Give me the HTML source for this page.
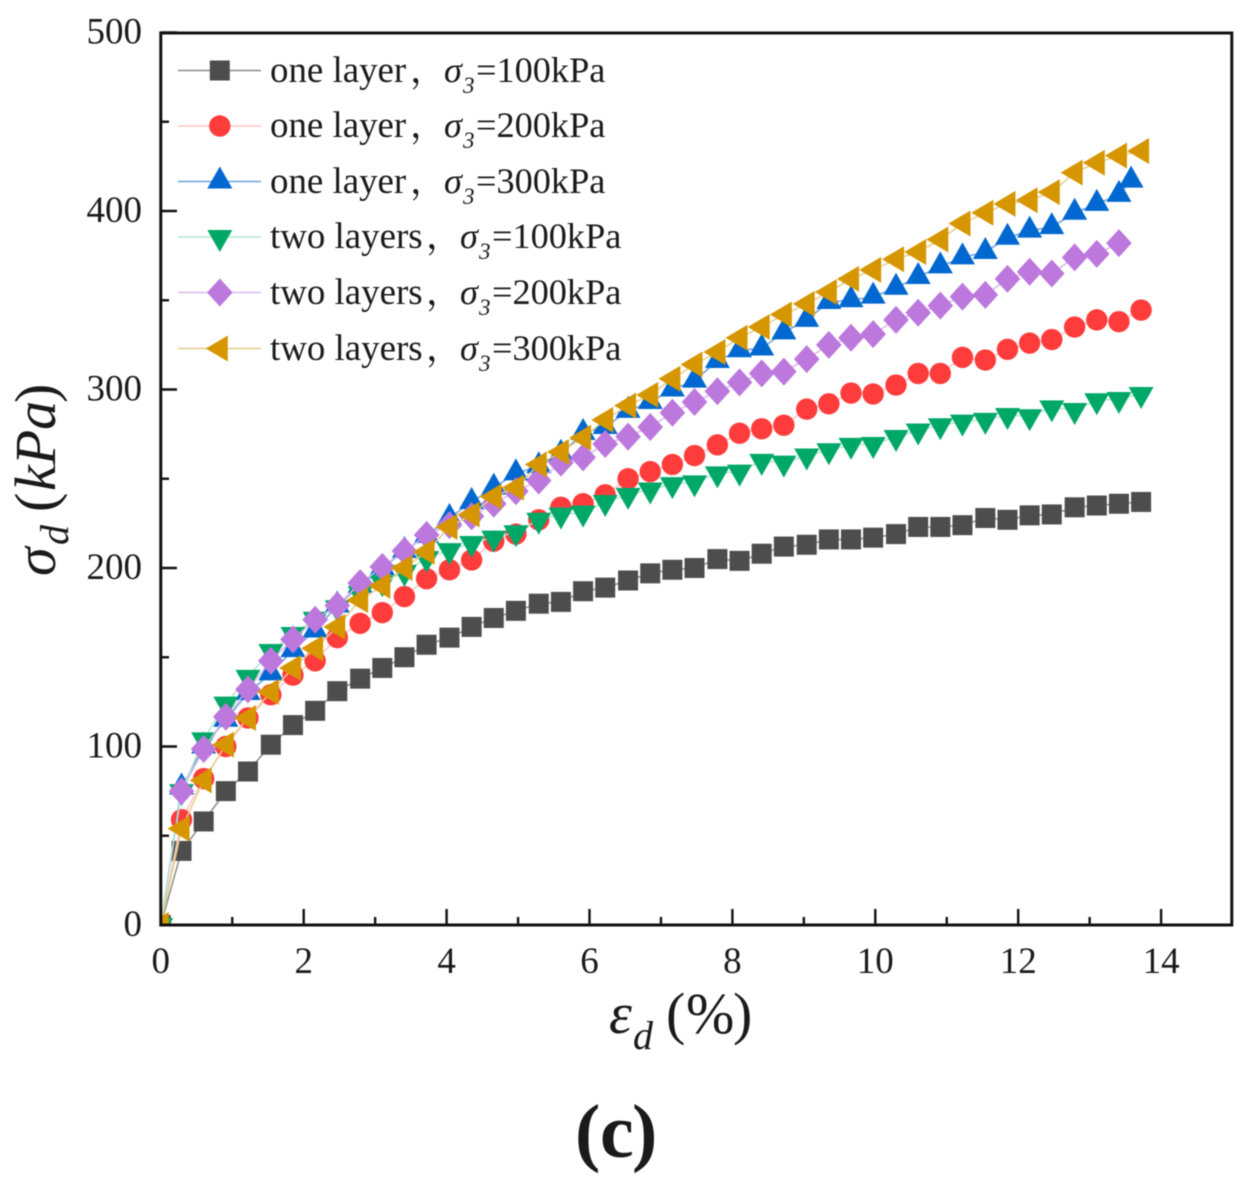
<!DOCTYPE html>
<html lang="en">
<head>
<meta charset="utf-8">
<title>Deviatoric stress versus strain</title>
<style>
html,body{margin:0;padding:0;background:#fff;width:1244px;height:1183px;overflow:hidden}
svg{display:block;filter:blur(0.55px)}
text{font-family:"Liberation Serif","Noto Serif CJK SC",serif;fill:#1a1a1a}
.tick{font-size:37px}
.leg{font-size:36.3px}
.word{font-size:36.9px}
.it{font-style:italic}
.ttl{font-size:58px}
</style>
</head>
<body>
<svg id="chart" xmlns="http://www.w3.org/2000/svg" width="1244" height="1183" viewBox="0 0 1244 1183">
  <defs>
    <clipPath id="plot-clip"><rect x="160.8" y="33" width="1071" height="892"></rect></clipPath>
  </defs>
  <g id="series-layer" clip-path="url(#plot-clip)"></g>
  <g id="axis-layer"></g>
  <g id="legend-layer">
    <text class="leg" y="82"><tspan class="word" x="270">one layer</tspan><tspan x="410">，</tspan><tspan class="it" x="444">σ</tspan><tspan class="it" x="463" y="93" font-size="23">3</tspan><tspan x="476" y="82">=100kPa</tspan></text>
    <text class="leg" y="137"><tspan class="word" x="270">one layer</tspan><tspan x="410">，</tspan><tspan class="it" x="444">σ</tspan><tspan class="it" x="463" y="148" font-size="23">3</tspan><tspan x="476" y="137">=200kPa</tspan></text>
    <text class="leg" y="193"><tspan class="word" x="270">one layer</tspan><tspan x="410">，</tspan><tspan class="it" x="444">σ</tspan><tspan class="it" x="463" y="204" font-size="23">3</tspan><tspan x="476" y="193">=300kPa</tspan></text>
    <text class="leg" y="248"><tspan class="word" x="270">two layers</tspan><tspan x="426">，</tspan><tspan class="it" x="460">σ</tspan><tspan class="it" x="479" y="259" font-size="23">3</tspan><tspan x="492" y="248">=100kPa</tspan></text>
    <text class="leg" y="304"><tspan class="word" x="270">two layers</tspan><tspan x="426">，</tspan><tspan class="it" x="460">σ</tspan><tspan class="it" x="479" y="315" font-size="23">3</tspan><tspan x="492" y="304">=200kPa</tspan></text>
    <text class="leg" y="360"><tspan class="word" x="270">two layers</tspan><tspan x="426">，</tspan><tspan class="it" x="460">σ</tspan><tspan class="it" x="479" y="371" font-size="23">3</tspan><tspan x="492" y="360">=300kPa</tspan></text>
  </g>
  <text class="ttl" transform="translate(55,578) rotate(-90)"><tspan class="it" x="2">σ</tspan><tspan class="it" font-size="40" x="33" dy="13">d</tspan><tspan x="66" dy="-13">(</tspan><tspan class="it" x="87">kPa</tspan><tspan x="175">)</tspan></text>
  <text class="ttl" y="1033"><tspan class="it" x="609">ε</tspan><tspan class="it" font-size="40" x="633" dy="16">d</tspan><tspan x="666" dy="-16">(</tspan><tspan x="686">%</tspan><tspan x="733">)</tspan></text>
  <text y="1157" font-size="76" font-weight="bold" fill="#000"><tspan x="575">(</tspan><tspan x="600">c</tspan><tspan x="632">)</tspan></text>
</svg>
<script>
const strain = [0,0.29,0.6,0.91,1.22,1.54,1.85,2.16,2.47,2.79,3.1,3.41,3.72,4.04,4.35,4.66,4.97,5.29,5.6,5.91,6.22,6.54,6.85,7.16,7.47,7.79,8.1,8.41,8.72,9.04,9.35,9.66,9.97,10.29,10.6,10.91,11.22,11.54,11.85,12.16,12.47,12.79,13.1,13.41,13.72];
const strainOneLayer300 = [0,0.29,0.6,0.91,1.22,1.54,1.85,2.16,2.47,2.79,3.1,3.41,3.72,4.04,4.35,4.66,4.97,5.29,5.6,5.91,6.22,6.54,6.85,7.16,7.47,7.79,8.1,8.41,8.72,9.04,9.35,9.66,9.97,10.29,10.6,10.91,11.22,11.54,11.85,12.16,12.47,12.79,13.1,13.41,13.58];
const strainTwoLayers200 = [0.29,0.6,0.91,1.22,1.54,1.85,2.16,2.47,2.79,3.1,3.41,3.72,4.04,4.35,4.66,4.97,5.29,5.6,5.91,6.22,6.54,6.85,7.16,7.47,7.79,8.1,8.41,8.72,9.04,9.35,9.66,9.97,10.29,10.6,10.91,11.22,11.54,11.85,12.16,12.47,12.79,13.1,13.41];
const oneLayer100 = [0,41.5,58,75,86,101,112,120,131,138,144,150,157,161,167,172,176,180,181,187,189,193,197,199,200,205,204,208,212,213,216,216,217,219,223,223,224,228,227,229.5,230,234,235,236,237];
const oneLayer200 = [0,59,82,100,116,129,140,148,161,169,175,184,194,199,204.5,215,219,227,234,236,241,250,254,258,263,269,275.5,278,280,289,292,298,297.5,302.5,309,309,318,316.5,322.5,326,328,335,339,338,344.5];
const oneLayer300 = [0,77,100,115,130,141,154,165,179,190,200,209.5,218,228,237,245,253,257,264,275.6,279,288,293,300,305,316,322,323,332,339,349,350,352,357,363,369,374,377,385,389,391,399,404,409,417];
const twoLayers100 = [0,75,104,124,139,153.5,163,171.6,178,186,192,197.8,205.6,210,214,217,220,227,230,231,237,241,244,247,248,253,254,260,259,263,266,269,269.5,273.4,277,280,282,283,285.7,285,290,288.5,294,294.7,297.5];
const twoLayers200 = [75,98.6,116.7,132,148,160,171,179,191.5,200.6,209.5,218.5,224,229,236,243,249,259,262,269.5,273.6,279,287,293,299,304,309,310,317,325,329,331,339,343,347,352,353,362,366,365,374,376,382];
const twoLayers300 = [0,54,81,101,116,130.5,144,155,167,182,190,200,209,223,230,240,245,258,265,273,283,291,297,306,314,321,329,335,342,348,354.6,362,367,373,377,384,393,399,404,406,410.6,421.5,427,431,433.6];
const xTickLabels = [0,2,4,6,8,10,12,14];
const yTickLabels = [0,100,200,300,400,500];
const xMinorTicks = [1,3,5,7,9,11,13];
const yMinorTicks = [50,150,250,350,450];

const SVGNS = 'http://www.w3.org/2000/svg';
const xAxis = v => 160.8 + 71.45 * v;
const yAxis = v => 925 - 1.785 * v;

const seriesLayer = document.getElementById('series-layer');
const axisLayer = document.getElementById('axis-layer');
const legendLayer = document.getElementById('legend-layer');

function make(tag, attrs, parent) {
  const el = document.createElementNS(SVGNS, tag);
  for (const k in attrs) el.setAttribute(k, attrs[k]);
  parent.appendChild(el);
  return el;
}

function drawMarker(shape, px, py, color, parent) {
  let el;
  if (shape === 'square') {
    el = make('rect', {x: px - 10, y: py - 10, width: 20, height: 20, fill: color}, parent);
  } else if (shape === 'circle') {
    el = make('circle', {cx: px, cy: py, r: 10.7, fill: color}, parent);
  } else {
    let pts;
    if (shape === 'up') pts = [[px, py - 15], [px + 12.5, py + 7], [px - 12.5, py + 7]];
    if (shape === 'down') pts = [[px, py + 15], [px + 12.5, py - 7], [px - 12.5, py - 7]];
    if (shape === 'diamond') pts = [[px, py - 14], [px + 12.8, py], [px, py + 14], [px - 12.8, py]];
    if (shape === 'left') pts = [[px - 14, py], [px + 8, py - 13], [px + 8, py + 13]];
    el = make('polygon', {points: pts.map(p => p.join(',')).join(' '), fill: color}, parent);
  }
  return el;
}

function drawSeries(name, xs, ys, shape, color, lineColor, legendY) {
  const g = make('g', {}, seriesLayer);
  
  
  const pts = ys.map((v, i) => xAxis(xs[i]) + ',' + yAxis(v)).join(' ');
  const line = make('polyline', {points: pts, fill: 'none', stroke: lineColor, 'stroke-width': 1.5}, g);
  
  
  ys.forEach((v, i) => {
    const m = drawMarker(shape, xAxis(xs[i]), yAxis(v), color, g);
    
    
  });
  const lg = make('line', {x1: 178, x2: 261, y1: legendY, y2: legendY, stroke: lineColor, 'stroke-width': 1.5}, legendLayer);
  
  
  const lm = drawMarker(shape, 219.8, legendY, color, legendLayer);
  
  
}

drawSeries('one-layer-100', strain, oneLayer100, 'square', '#4d4d4d', '#8c8c8c', 70.5);
drawSeries('one-layer-200', strain, oneLayer200, 'circle', '#ff3c3c', '#ffc4c4', 126);
drawSeries('one-layer-300', strainOneLayer300, oneLayer300, 'up', '#0068d0', '#6c9fdc', 181.5);
drawSeries('two-layers-100', strain, twoLayers100, 'down', '#00a868', '#b4e6d2', 237);
drawSeries('two-layers-200', strainTwoLayers200, twoLayers200, 'diamond', '#bc78dc', '#d8b8ec', 292.5);
drawSeries('two-layers-300', strain, twoLayers300, 'left', '#d69600', '#e8cc8c', 348.5);

const frame = make('rect', {x: 160.8, y: 33, width: 1071, height: 892, fill: 'none', stroke: '#111', 'stroke-width': 3}, axisLayer);



xTickLabels.forEach(v => {
  const px = xAxis(v);
  const t = make('line', {x1: px, x2: px, y1: 925, y2: 909, stroke: '#111', 'stroke-width': 2.4}, axisLayer);
  
  
  const l = make('text', {x: px, y: 973, class: 'tick', 'text-anchor': 'middle'}, axisLayer);
  
  
  l.textContent = v;
});
xMinorTicks.forEach(v => {
  const px = xAxis(v);
  const t = make('line', {x1: px, x2: px, y1: 925, y2: 917, stroke: '#111', 'stroke-width': 2.4}, axisLayer);
  
  
});
yTickLabels.forEach(v => {
  const py = yAxis(v);
  const t = make('line', {x1: 160.8, x2: 177, y1: py, y2: py, stroke: '#111', 'stroke-width': 2.4}, axisLayer);
  
  
  const l = make('text', {x: 142, y: py + 11, class: 'tick', 'text-anchor': 'end'}, axisLayer);
  
  
  l.textContent = v;
});
yMinorTicks.forEach(v => {
  const py = yAxis(v);
  const t = make('line', {x1: 160.8, x2: 169, y1: py, y2: py, stroke: '#111', 'stroke-width': 2.4}, axisLayer);
  
  
});
</script>
</body>
</html>
